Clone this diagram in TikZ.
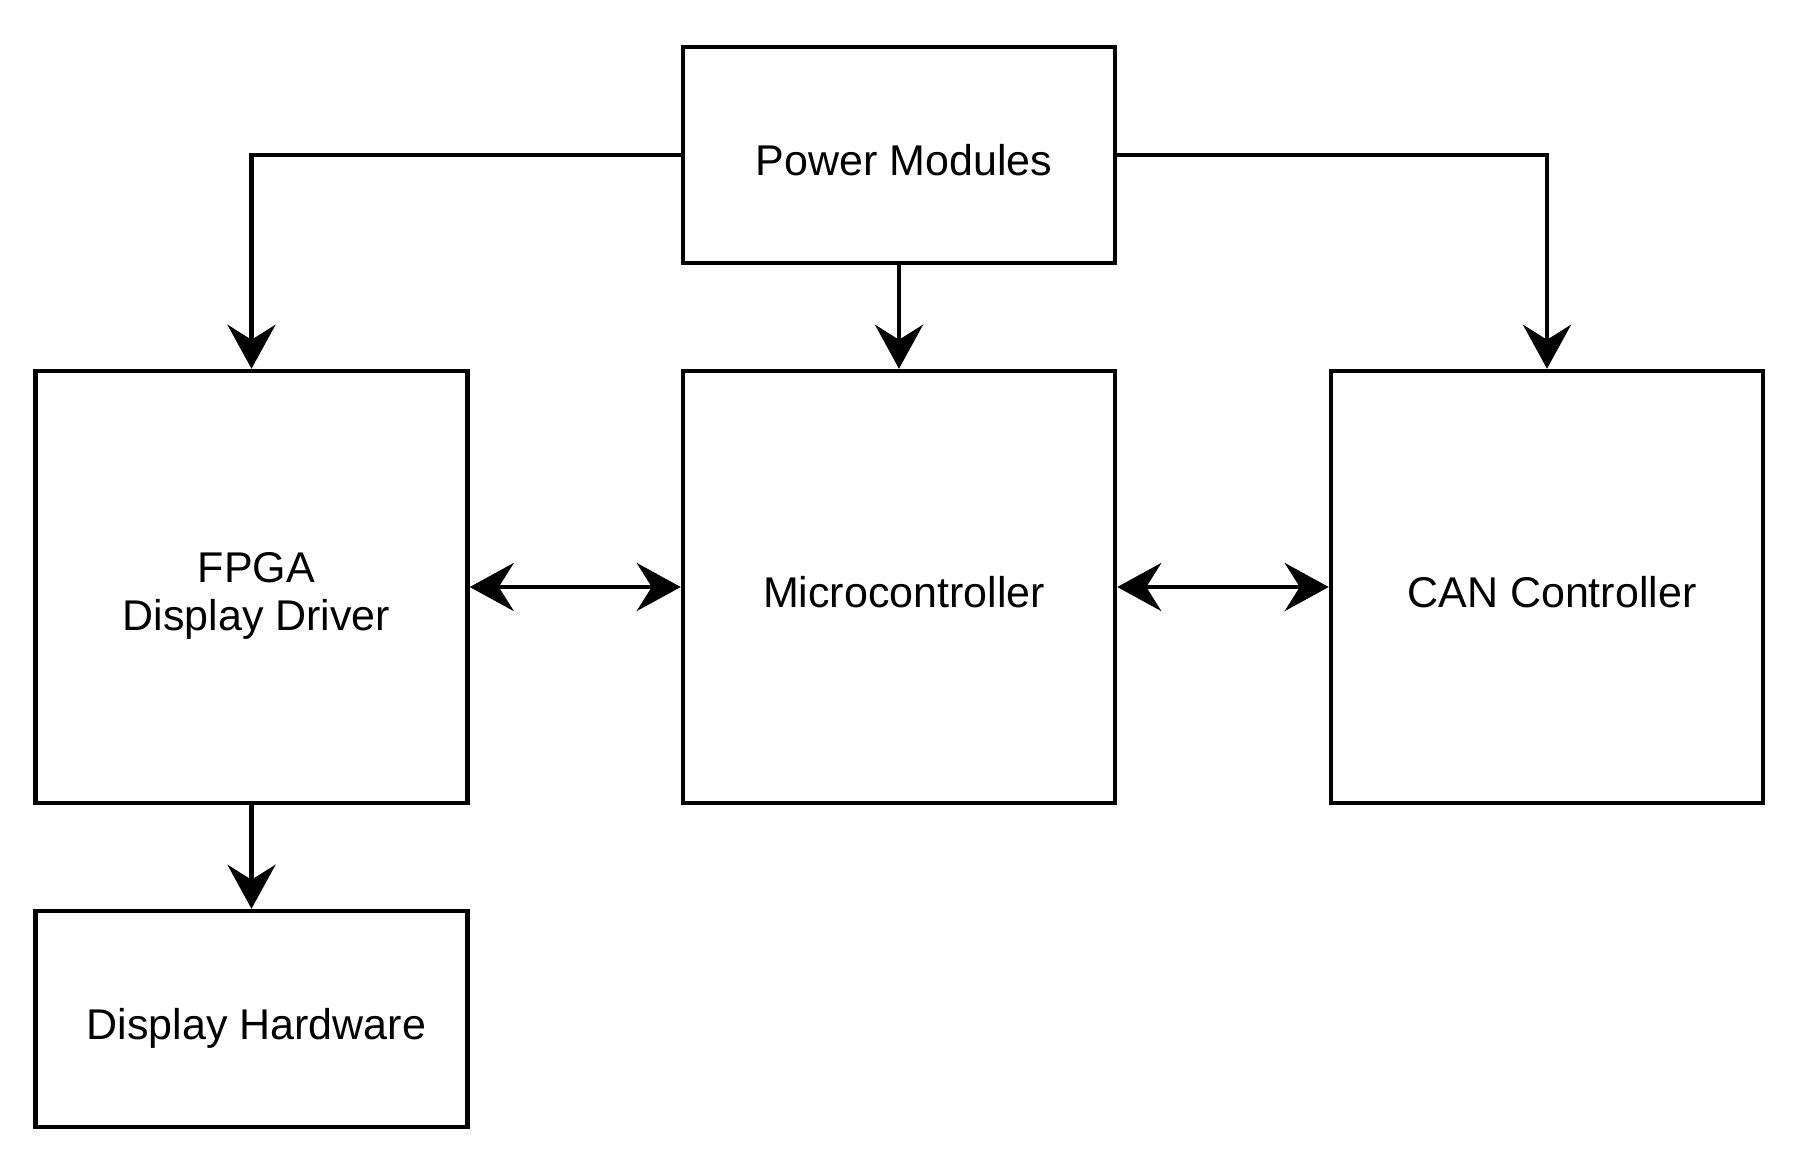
\documentclass[tikz,border=0pt]{standalone}
\usepackage{fontspec}
\setmainfont{Liberation Sans}
\usetikzlibrary{arrows.meta}
\begin{document}
\begin{tikzpicture}[x=1pt,y=-1pt,
  blk/.style={draw=black,line width=4.5pt,fill=white,minimum width=432pt,inner sep=0pt},
  big/.style={blk,minimum height=432pt},
  small/.style={blk,minimum height=216pt},
  txt/.style={inner sep=0pt,align=center,text height=31pt,text depth=0pt,
    font=\fontsize{43}{48}\selectfont},
  conn/.style={line width=4.5pt,-{Stealth[length=44pt,width=48pt,inset=15pt]}},
  bconn/.style={line width=4.5pt,{Stealth[length=44pt,width=48pt,inset=15pt]}-{Stealth[length=44pt,width=48pt,inset=15pt]}}]
\useasboundingbox[fill=white] (0,0) rectangle (1793,1165);
\node[small] (pm) at (899,155) {};
\node[big] (fpga) at (251.5,587) {};
\node[big] (mc) at (899,587) {};
\node[big] (can) at (1547,587) {};
\node[small] (dh) at (251.5,1019) {};
\node[txt] (pmt) at ([shift={(5,4.5)}]pm.center) {Power Modules};
\node[txt] (fpgat) at ([shift={(5,27.5)}]fpga.center) {FPGA\\Display Driver};
\node[txt] (mct) at ([shift={(5,4.5)}]mc.center) {Microcontroller};
\node[txt] (cant) at ([shift={(5,4.5)}]can.center) {CAN Controller};
\node[txt] (dht) at ([shift={(5,4.5)}]dh.center) {Display Hardware};
\draw[conn] (pm.west) -| (fpga.north);
\draw[conn] (pm.east) -| (can.north);
\draw[conn] (pm.south) -- (mc.north);
\draw[conn] (fpga.south) -- (dh.north);
\draw[bconn] (fpga.east) -- (mc.west);
\draw[bconn] (mc.east) -- (can.west);
\end{tikzpicture}
\end{document}
